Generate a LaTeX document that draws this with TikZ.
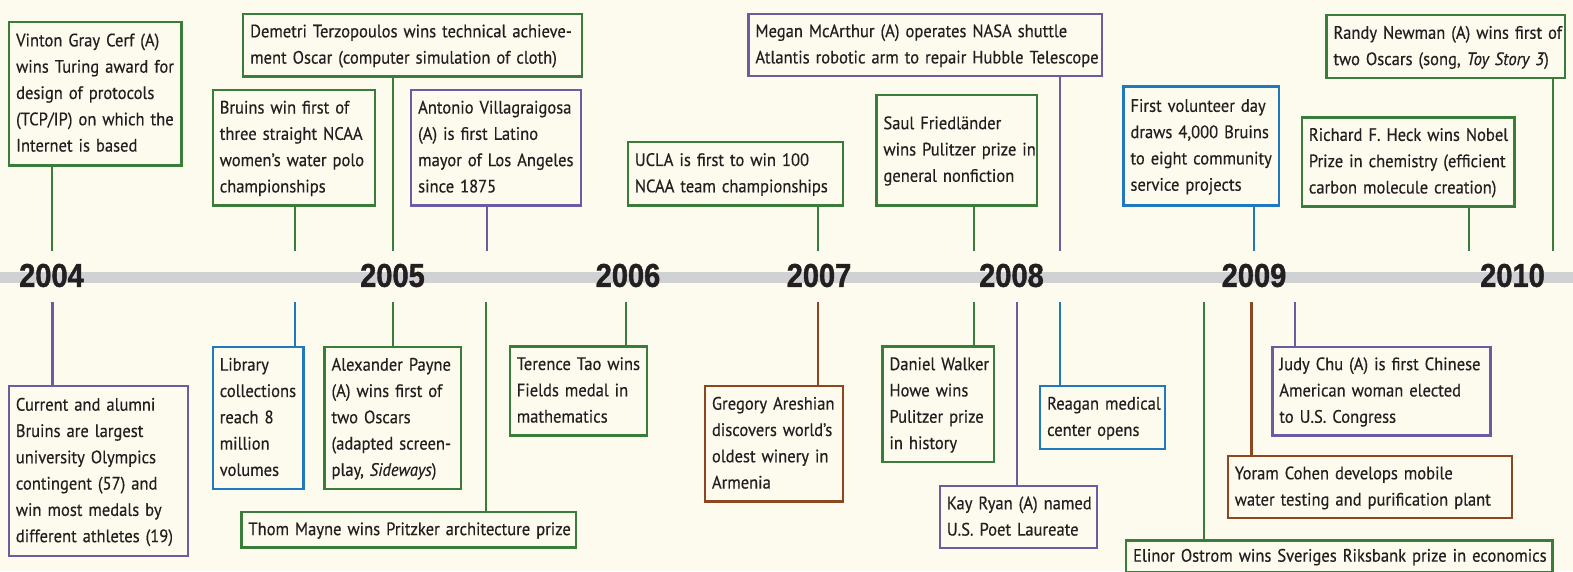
\documentclass[tikz,border=0pt]{standalone}
\usepackage{fontspec}
\setmainfont{PT Sans}[FakeStretch=0.92,FakeBold=0.4]
\newfontfamily\yearfont{Liberation Sans}[FakeStretch=0.88,FakeBold=1.2]
\definecolor{bg}{RGB}{253,250,238}
\definecolor{cgreen}{RGB}{58,125,58}
\definecolor{cpurple}{RGB}{108,90,165}
\definecolor{cblue}{RGB}{32,120,190}
\definecolor{cbrown}{RGB}{140,70,32}
\definecolor{cbar}{RGB}{208,209,211}
\definecolor{ink}{RGB}{35,31,32}
\tikzset{
  ebox/.style={line width=2.3pt, fill=bg, inner xsep=7pt, inner ysep=0pt, align=left,
    text=ink, font=\fontsize{18}{26.3}\selectfont, outer sep=0pt},
  stem/.style={line width=2.2pt},
  yearlabel/.style={font=\yearfont\bfseries\fontsize{33}{33}\selectfont, text=ink, inner sep=0pt},
  barline/.style={line width=10.5pt, draw=cbar}
}
\newcommand\ebox[7]{%
  \pgfmathsetmacro\ebw{#5-#3-2.3}%
  \pgfmathsetmacro\ebh{#6-#4-2.3}%
  \pgfmathsetmacro\ebt{#5-#3-2.3-14}%
  \node[ebox,draw=#2,minimum width=\ebw pt,minimum height=\ebh pt,text width=\ebt pt]
    (#1) at ({(#3+#5)/2},{(#4+#6)/2}) {\begin{tabular}{@{}l@{}}#7\end{tabular}};}
\begin{document}
\begin{tikzpicture}[x=1pt,y=-1pt]
\useasboundingbox (0,0) rectangle (1573,571);
\clip (0,0) rectangle (1573,571);
\fill[bg] (0,0) rectangle (1573,571);
% timeline bar
\coordinate (barL) at (0,277.5);
\coordinate (barR) at (1573,277.5);
\draw[barline] (barL) -- (barR);
% top boxes
\ebox{vinton}{cgreen}{8}{20.7}{182.5}{166.7}{Vinton Gray Cerf (A)\\wins Turing award for\\design of protocols\\(TCP/IP) on which the\\Internet is based}
\ebox{demetri}{cgreen}{242}{12.7}{583}{77.7}{Demetri Terzopoulos wins technical achieve-\\ment Oscar (computer simulation of cloth)}
\ebox{bruins}{cgreen}{211.6}{88.7}{375.8}{206.7}{Bruins win first of\\three straight NCAA\\women’s water polo\\championships}
\ebox{antonio}{cpurple}{410}{88.7}{582}{206.7}{Antonio Villagraigosa\\(A) is first Latino\\mayor of Los Angeles\\since 1875}
\ebox{ucla}{cgreen}{626.7}{141}{844}{206.7}{UCLA is first to win 100\\NCAA team championships}
\ebox{megan}{cpurple}{747.3}{12.7}{1103}{77.3}{Megan McArthur (A) operates NASA shuttle\\Atlantis robotic arm to repair Hubble Telescope}
\ebox{saul}{cgreen}{875.3}{93.7}{1038.3}{206.7}{Saul Friedländer\\wins Pulitzer prize in\\general nonfiction}
\ebox{volunteer}{cblue}{1122.3}{85.3}{1280}{206.7}{First volunteer day\\draws 4,000 Bruins\\to eight community\\service projects}
\ebox{randy}{cgreen}{1325.3}{14}{1566}{79.3}{Randy Newman (A) wins first of\\two Oscars (song, \textit{Toy Story 3})}
\ebox{richard}{cgreen}{1300.7}{116.3}{1515.7}{207.5}{Richard F. Heck wins Nobel\\Prize in chemistry (efficient\\carbon molecule creation)}
% bottom boxes
\ebox{current}{cpurple}{7.7}{385}{189.4}{557.3}{Current and alumni\\Bruins are largest\\university Olympics\\contingent (57) and\\win most medals by\\different athletes (19)}
\ebox{library}{cblue}{211.6}{346}{304.6}{490}{Library\\collections\\reach 8\\million\\volumes}
\ebox{alexander}{cgreen}{323.4}{346}{462}{490}{Alexander Payne\\(A) wins first of\\two Oscars\\(adapted screen-\\play, \textit{Sideways})}
\ebox{thom}{cgreen}{240.3}{511}{577}{548.7}{Thom Mayne wins Pritzker architecture prize}
\ebox{terence}{cgreen}{508.6}{345.3}{648}{436.7}{Terence Tao wins\\Fields medal in\\mathematics}
\ebox{gregory}{cbrown}{703.8}{385}{843.8}{502.7}{Gregory Areshian\\discovers world’s\\oldest winery in\\Armenia}
\ebox{daniel}{cgreen}{881.3}{345.3}{995.2}{463.3}{Daniel Walker\\Howe wins\\Pulitzer prize\\in history}
\ebox{kay}{cpurple}{938.7}{485}{1098}{549.3}{Kay Ryan (A) named\\U.S. Poet Laureate}
\ebox{reagan}{cblue}{1039}{385}{1166.3}{450}{Reagan medical\\center opens}
\ebox{elinor}{cgreen}{1125}{539.3}{1553.7}{573.5}{Elinor Ostrom wins Sveriges Riksbank prize in economics}
\ebox{yoram}{cbrown}{1226.6}{455}{1512.8}{519.3}{Yoram Cohen develops mobile\\water testing and purification plant}
\ebox{judy}{cpurple}{1271.2}{345.7}{1491.6}{436.7}{Judy Chu (A) is first Chinese\\American woman elected\\to U.S. Congress}
% stem ends, top
\coordinate (vinton-s) at (52,251);
\coordinate (bruins-s) at (294.7,251);
\coordinate (demetri-s) at (392.6,251);
\coordinate (antonio-s) at (486.8,251);
\coordinate (ucla-s) at (818,251);
\coordinate (saul-s) at (974.3,251);
\coordinate (megan-s) at (1060,251);
\coordinate (volunteer-s) at (1254,251);
\coordinate (richard-s) at (1469.3,251);
\coordinate (randy-s) at (1553.3,251);
% stem ends, bottom
\coordinate (current-s) at (52.4,301.7);
\coordinate (library-s) at (294.7,301.7);
\coordinate (alexander-s) at (392.6,301.7);
\coordinate (thom-s) at (486,301.7);
\coordinate (terence-s) at (626.3,301.7);
\coordinate (gregory-s) at (818,301.7);
\coordinate (daniel-s) at (974.3,301.7);
\coordinate (kay-s) at (1017,301.7);
\coordinate (reagan-s) at (1059.7,301.7);
\coordinate (elinor-s) at (1203.6,301.7);
\coordinate (yoram-s) at (1251.5,301.7);
\coordinate (judy-s) at (1295,301.7);
% top stems
\draw[stem,cgreen] (vinton-s |- vinton.south) -- (vinton-s);
\draw[stem,cgreen] (bruins-s |- bruins.south) -- (bruins-s);
\draw[stem,cgreen] (demetri-s |- demetri.south) -- (demetri-s);
\draw[stem,cpurple] (antonio-s |- antonio.south) -- (antonio-s);
\draw[stem,cgreen] (ucla-s |- ucla.south) -- (ucla-s);
\draw[stem,cgreen] (saul-s |- saul.south) -- (saul-s);
\draw[stem,cpurple] (megan-s |- megan.south) -- (megan-s);
\draw[stem,cblue] (volunteer-s |- volunteer.south) -- (volunteer-s);
\draw[stem,cgreen] (richard-s |- richard.south) -- (richard-s);
\draw[stem,cgreen] (randy-s |- randy.south) -- (randy-s);
% bottom stems
\draw[stem,cpurple] (current-s) -- (current-s |- current.north);
\draw[stem,cblue] (library-s) -- (library-s |- library.north);
\draw[stem,cgreen] (alexander-s) -- (alexander-s |- alexander.north);
\draw[stem,cgreen] (thom-s) -- (thom-s |- thom.north);
\draw[stem,cgreen] (terence-s) -- (terence-s |- terence.north);
\draw[stem,cbrown] (gregory-s) -- (gregory-s |- gregory.north);
\draw[stem,cgreen] (daniel-s) -- (daniel-s |- daniel.north);
\draw[stem,cpurple] (kay-s) -- (kay-s |- kay.north);
\draw[stem,cblue] (reagan-s) -- (reagan-s |- reagan.north);
\draw[stem,cgreen] (elinor-s) -- (elinor-s |- elinor.north);
\draw[stem,cbrown] (yoram-s) -- (yoram-s |- yoram.north);
\draw[stem,cpurple] (judy-s) -- (judy-s |- judy.north);
% years
\node[yearlabel] (y2004) at (51.5,275.5) {2004};
\node[yearlabel] (y2005) at (392.5,275.5) {2005};
\node[yearlabel] (y2006) at (628,275.5) {2006};
\node[yearlabel] (y2007) at (819,275.5) {2007};
\node[yearlabel] (y2008) at (1011.5,275.5) {2008};
\node[yearlabel] (y2009) at (1254,275.5) {2009};
\node[yearlabel] (y2010) at (1512.5,275.5) {2010};
\end{tikzpicture}
\end{document}
